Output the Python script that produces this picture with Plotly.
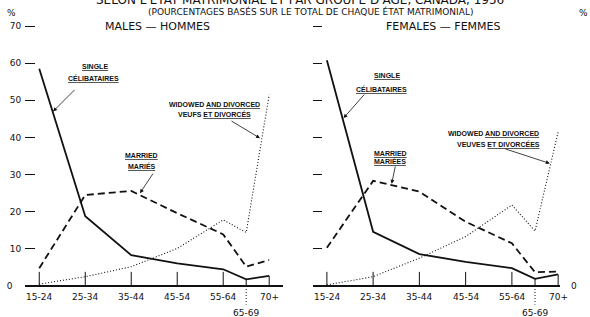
import plotly.graph_objects as go

# ---------------- data ----------------
age_labels = ["15-24", "25-34", "35-44", "45-54", "55-64", "65-69", "70+"]
age_pos = [0, 1, 2, 3, 4, 4.5, 5]

male_single = [58.5, 18.8, 8.3, 6.1, 4.5, 1.8, 2.7]
male_married = [4.8, 24.5, 25.6, 19.6, 13.9, 5.2, 7.0]
male_widowed = [0.5, 2.5, 5.2, 10.1, 17.8, 14.4, 51.5]

female_single = [60.8, 14.6, 8.6, 6.5, 4.8, 1.9, 3.1]
female_married = [10.3, 28.3, 25.4, 17.3, 11.5, 3.7, 3.9]
female_widowed = [0.3, 2.5, 7.5, 13.3, 21.8, 14.8, 41.5]

y_ticks = [0, 10, 20, 30, 40, 50, 60, 70]

W, H = 590, 317
INK = "#111111"
FONT = "DejaVu Sans"
LBL = "Liberation Sans"
NB = "\u00a0"

XR_LEFT = [-0.31, 5.30]
XR_RIGHT = [-0.30, 5.04]
YR = [-8.35, 77.0]

fig = go.Figure()


def add_panel(xa, ya, xr, single, married, widowed):
    # baseline (y = 0) spanning the panel's x range
    fig.add_trace(go.Scatter(x=[xr[0] + 0.01, xr[1] - 0.01], y=[y_ticks[0], y_ticks[0]],
                             mode="lines", xaxis=xa, yaxis=ya,
                             line=dict(color=INK, width=2), showlegend=False,
                             hoverinfo="skip"))
    fig.add_trace(go.Scatter(x=age_pos, y=single, mode="lines", xaxis=xa, yaxis=ya,
                             line=dict(color=INK, width=1.8), showlegend=False))
    fig.add_trace(go.Scatter(x=age_pos, y=married, mode="lines", xaxis=xa, yaxis=ya,
                             line=dict(color=INK, width=1.8, dash="7px,4px"), showlegend=False))
    fig.add_trace(go.Scatter(x=age_pos, y=widowed, mode="lines", xaxis=xa, yaxis=ya,
                             line=dict(color=INK, width=1.1, dash="1px,2px"), showlegend=False))
    # category tick marks rising from the baseline
    tx, ty = [], []
    for p, s in zip(age_pos, single):
        tx += [p, p, None]
        ty += [0, min(3.8, s), None]
    fig.add_trace(go.Scatter(x=tx, y=ty, mode="lines", xaxis=xa, yaxis=ya,
                             line=dict(color=INK, width=1), showlegend=False, hoverinfo="skip"))
    # dotted leader to the 65-69 label
    fig.add_trace(go.Scatter(x=[age_pos[5], age_pos[5]], y=[0, -5.0], mode="lines",
                             xaxis=xa, yaxis=ya, line=dict(color=INK, width=1, dash="1px,2px"),
                             showlegend=False, hoverinfo="skip"))


add_panel("x", "y", XR_LEFT, male_single, male_married, male_widowed)
add_panel("x2", "y2", XR_RIGHT, female_single, female_married, female_widowed)

# axis baselines as shapes too (domain-relative), drawn above the data
for xa, ya in (("x", "y"), ("x2", "y2")):
    fig.add_shape(type="line", xref=xa + " domain", yref=ya, x0=0, x1=1,
                  y0=y_ticks[0], y1=y_ticks[0], layer="above",
                  line=dict(color=INK, width=1.8))

left_text = [(str(v) + NB) if v else ("0" + NB * 4) for v in y_ticks]
ax_common = dict(showgrid=False, zeroline=False, showline=False, showticklabels=False, ticks="")
fig.update_layout(
    width=W, height=H, margin=dict(l=0, r=0, t=0, b=0, autoexpand=False),
    paper_bgcolor="white", plot_bgcolor="white",
    xaxis=dict(domain=[25 / W, 283 / W], range=XR_LEFT, **ax_common),
    xaxis2=dict(domain=[313 / W, 560 / W], range=XR_RIGHT, **ax_common),
    yaxis=dict(domain=[0, 1], range=YR, anchor="x", showgrid=False, showline=False,
               zeroline=False, tickvals=y_ticks, ticktext=left_text,
               ticks="inside", ticklen=10, tickwidth=1.2, tickcolor=INK,
               tickfont=dict(family=FONT, size=9, color=INK)),
    yaxis3=dict(range=YR, overlaying="y", anchor="x", side="right", showgrid=False,
                showline=False, zeroline=False, tickvals=y_ticks[1:], ticks="inside",
                ticklen=10, tickwidth=1.2, tickcolor=INK, showticklabels=False),
    yaxis2=dict(domain=[0, 1], range=YR, anchor="x2", showgrid=False, showline=False,
                zeroline=False, tickvals=y_ticks[1:], ticks="inside", ticklen=9,
                tickwidth=1.2, tickcolor=INK, showticklabels=False),
    yaxis4=dict(range=YR, overlaying="y2", anchor="x2", side="right", showgrid=False,
                showline=False, zeroline=False, tickvals=y_ticks[1:],
                ticktext=[str(v) for v in y_ticks[1:]], ticks="outside", ticklen=12,
                tickwidth=1.2, tickcolor=INK,
                tickfont=dict(family=FONT, size=9, color=INK)),
)

ann = []
# category labels
for xa, ya in (("x", "y"), ("x2", "y2")):
    for lab, p in zip(age_labels, age_pos):
        low = lab == "65-69"
        ann.append(dict(x=p, y=-7.3 if low else -2.96, xref=xa, yref=ya, text=lab,
                        showarrow=False, xanchor="center", yanchor="middle",
                        font=dict(family=FONT, size=9, color=INK)))

# "0" label on the far right (no tick mark there)
ann.append(dict(x=XR_RIGHT[1], y=0, xref="x2", yref="y2", text=str(y_ticks[0]),
                showarrow=False, xanchor="left", yanchor="middle", xshift=9,
                font=dict(family=FONT, size=9, color=INK)))


def ptxt(x, y, text, size=9, **kw):
    d = dict(x=x / W, y=1 - y / H, xref="paper", yref="paper", text=text, showarrow=False,
             xanchor="center", yanchor="middle", font=dict(family=FONT, size=size, color=INK))
    d.update(kw)
    return d


ann.append(ptxt(300, -1, "SELON L'ÉTAT MATRIMONIAL ET PAR GROUPE D'ÂGE, CANADA, 1956", size=12))
ann.append(ptxt(310, 12, "(POURCENTAGES BASÉS SUR LE TOTAL DE CHAQUE ÉTAT MATRIMONIAL)", size=9))
ann.append(ptxt(11, 13, "%", size=9))
ann.append(ptxt(583, 13, "%", size=9))
ann.append(ptxt(157, 26, "MALES — HOMMES", size=11))
ann.append(ptxt(443, 26, "FEMALES — FEMMES", size=11))


def lab(x, y, xa, ya, text):
    return dict(x=x, y=y, xref=xa, yref=ya, text=text, showarrow=False, xanchor="center",
                yanchor="middle", font=dict(family=LBL, size=7, color=INK, weight="bold"))


def arrow(x, y, xa, ya, axp, ayp):
    return dict(x=x, y=y, xref=xa, yref=ya, text="", showarrow=True, ax=axp, ay=ayp,
                arrowhead=2, arrowsize=1, arrowwidth=0.8, arrowcolor=INK)


# males
ann += [
    lab(1.21, 59.0, "x", "y", "<u>SINGLE</u>"),
    lab(1.19, 56.0, "x", "y", "<u>CÉLIBATAIRES</u>"),
    arrow(0.30, 47.0, "x", "y", 23, -23),
    lab(2.23, 35.1, "x", "y", "<u>MARRIED</u>"),
    lab(2.23, 32.4, "x", "y", "<u>MARIÉS</u>"),
    arrow(2.19, 25.0, "x", "y", 14, -21),
    lab(3.82, 49.0, "x", "y", "WIDOWED <u>AND DIVORCED</u>"),
    lab(3.82, 46.3, "x", "y", "VEUFS <u>ET DIVORCÉS</u>"),
    arrow(4.80, 39.8, "x", "y", -30, -18),
]
# females
ann += [
    lab(1.30, 56.6, "x2", "y2", "<u>SINGLE</u>"),
    lab(1.19, 53.0, "x2", "y2", "<u>CÉLIBATAIRES</u>"),
    arrow(0.36, 45.2, "x2", "y2", 22, -25),
    lab(1.37, 35.7, "x2", "y2", "<u>MARRIED</u>"),
    lab(1.37, 33.7, "x2", "y2", "<u>MARIÉES</u>"),
    arrow(1.40, 27.5, "x2", "y2", 4, -19),
    lab(3.60, 41.1, "x2", "y2", "WIDOWED <u>AND DIVORCED</u>"),
    lab(3.71, 38.2, "x2", "y2", "VEUVES <u>ET DIVORCÉES</u>"),
    arrow(4.82, 33.0, "x2", "y2", -46, -15),
]

fig.update_layout(annotations=ann)
fig.write_html("out.html", config={"displayModeBar": False},
               post_script="document.body.style.margin='0';")
